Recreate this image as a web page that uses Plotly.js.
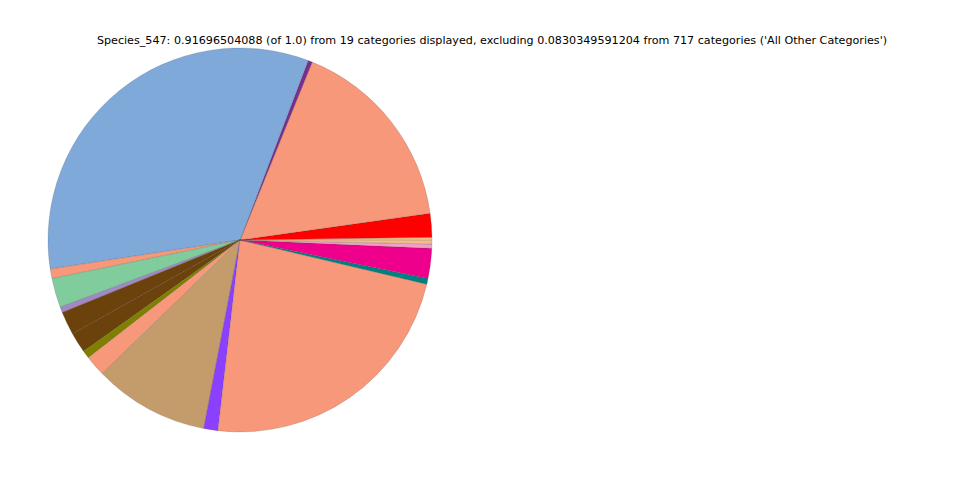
<!DOCTYPE html>
<html>
<head>
<meta charset="utf-8">
<script src="https://cdn.plot.ly/plotly-3.0.1.min.js"></script>
<style>html,body{margin:0;padding:0;background:#fff;}#chart{width:960px;height:480px;}</style>
</head>
<body>
<div id="chart"></div>
<script>
const categories = ["Cat_01","Cat_02","Cat_03","Cat_04","Cat_05","Cat_06","Cat_07","Cat_08","Cat_09","Cat_10",
  "Cat_11","Cat_12","Cat_13","Cat_14","Cat_15","Cat_16","Cat_17","Cat_18","Cat_19"];
const values = [0.00229,0.01834,0.15257,0.00331,0.30438,0.00739,0.02267,0.00433,0.01783,0.01579,
  0.00611,0.01605,0.08915,0.01095,0.21217,0.00433,0.02318,0.00331,0.00280];
const colors = ["#f7c08c","#ff0000","#f8987a","#7b2d8e","#7fa9d9","#f8987a","#80cc9c","#a388c6","#6b420c","#6b420c",
  "#808000","#f8987a","#c49c6b","#8b3fff","#f8987a","#008080","#ee008c","#f2a0c6","#f5bd88"];
const titleText = "Species_547: 0.91696504088 (of 1.0) from 19 categories displayed, excluding 0.0830349591204 from 717 categories ('All Other Categories')";

Plotly.newPlot('chart', [{
  type: 'pie',
  labels: categories,
  values: values,
  sort: false,
  direction: 'counterclockwise',
  rotation: 89.2,
  textinfo: 'none',
  hoverinfo: 'skip',
  marker: {colors: colors, line: {color: 'rgba(60,60,60,0.45)', width: 0.4}},
  domain: {x: [0.05, 0.45], y: [0.1, 0.9]}
}], {
  width: 960, height: 480,
  margin: {l: 0, r: 0, t: 0, b: 0},
  paper_bgcolor: '#ffffff',
  showlegend: false,
  title: {text: titleText, font: {family: 'DejaVu Sans', size: 11.15, color: '#000'},
    x: 0.5125, xanchor: 'center', xref: 'paper', y: 1 - 40/480, yanchor: 'middle', yref: 'container'}
}, {displayModeBar: false, staticPlot: true});
</script>
</body>
</html>
